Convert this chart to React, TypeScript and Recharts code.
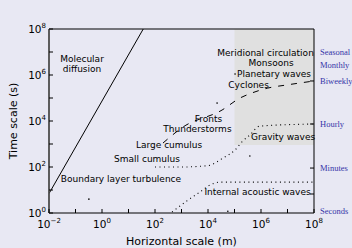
import React from 'react';
import {
  ComposedChart, Line, Scatter, XAxis, YAxis, ReferenceArea, ReferenceDot,
} from 'recharts';

// horizontal scale (m) and time scale (s), log axes
const xDecades = [1e-2, 1e-1, 1, 10, 100, 1e3, 1e4, 1e5, 1e6, 1e7, 1e8];
const yDecades = [1, 10, 100, 1e3, 1e4, 1e5, 1e6, 1e7, 1e8];

// molecular diffusion (solid)
const diffusionL = [0.01, 36];
const diffusionT = [7, 1e8];

// weather systems (dashed): cumulus -> fronts -> cyclones -> planetary waves
const weatherL = [200, 1150, 34000, 162000, 457000, 1.8e6, 9.5e6, 1e8];
const weatherT = [1100, 5500, 30000, 100000, 166000, 270000, 370000, 550000];

// gravity waves (dotted)
const gravityL = [100, 1000, 10000, 37000, 105000, 190000, 380000, 900000, 1e8];
const gravityT = [100, 100, 115, 245, 550, 1230, 2450, 6000, 7400];

// internal acoustic waves (dotted)
const acousticL = [440, 1800, 5000, 12000, 28000, 1e8];
const acousticT = [1.1, 3.7, 8.2, 16.6, 22, 22];

// stray marks
const strayL = [0.32, 380000, 56000, 22000, 105000];
const strayT = [4, 300, 1.2, 60000, 1.1e6];

// shaded large-scale box
const shadeL = [1e5, 1e8];
const shadeT = [900, 1e8];

const labelNames = [
  'Molecular', 'diffusion', 'Meridional circulation', 'Monsoons', 'Planetary waves',
  'Cyclones', 'Fronts', 'Thunderstorms', 'Large cumulus', 'Small cumulus',
  'Boundary layer turbulence', 'Gravity waves', 'Internal acoustic waves',
];
const labelL = [0.176, 0.176, 1.48e6, 2.4e6, 3.1e6, 3.4e5, 1.05e4, 4.0e3, 340, 50, 5.2, 6.8e6, 7.4e5];
const labelT = [5.0e6, 1.8e6, 9.1e6, 3.3e6, 1.1e6, 3.7e5, 1.2e4, 4.5e3, 910, 223, 30, 2000, 8.2];

// top (length) annotations
const topNames = ['mm scale', 'few hundred m', 'tens of km', 'few thousand km', "Earth's radius"];
const topL = [0.1, 160, 12000, 3.5e5, 4.4e6];
const topRow = [2, 1, 2, 1, 2];

// right (time) annotations
const rightNames = ['Seasonal', 'Monthly', 'Biweekly', 'Hourly', 'Minutes', 'Seconds'];
const rightT = [1e7, 2.7e6, 5.5e5, 7400, 90, 1.2];
const rightMarks = [5.5e5, 7400, 90, 6.7];

const zip = (xs: number[], ys: number[]) => xs.map((L, i) => ({ L, T: ys[i] }));

const FONT = 'DejaVu Sans';
const BLUE = '#3535a8';

const expOf = (v: number) => Math.round(Math.log10(v));

const Pow = ({ x, y, v, anchor }: any) => {
  const e = expOf(v);
  return (
    <text x={x} y={y} textAnchor={anchor} fontFamily={FONT} fontSize={10.5} fill="#000">
      <tspan>10</tspan>
      <tspan dy={-5} fontSize={7}>{e < 0 ? `\u2212${-e}` : `${e}`}</tspan>
    </text>
  );
};

const BottomTick = ({ x, y, payload }: any) => {
  const e = expOf(payload.value);
  return (
    <g>
      <line x1={x} y1={y} x2={x} y2={y - 4} stroke="#000" />
      {e % 2 === 0 && <Pow x={x} y={y + 15} v={payload.value} anchor="middle" />}
    </g>
  );
};

const LeftTick = ({ x, y, payload }: any) => {
  const e = expOf(payload.value);
  return (
    <g>
      <line x1={x} y1={y} x2={x + 4} y2={y} stroke="#000" />
      {e % 2 === 0 && <Pow x={x - 3} y={y + 4} v={payload.value} anchor="end" />}
    </g>
  );
};

const TopTick = ({ x, y, payload }: any) => {
  const v = payload.value;
  const i = topL.indexOf(v);
  return (
    <g>
      {xDecades.includes(v) && <line x1={x} y1={y} x2={x} y2={y + 4} stroke="#000" />}
      {i >= 0 && (
        <text x={x} y={topRow[i] === 1 ? y - 15 : y - 5} textAnchor="middle"
          fontFamily="Liberation Serif" fontSize={8.5} fill={BLUE}>{topNames[i]}</text>
      )}
    </g>
  );
};

const RightTick = ({ x, y, payload }: any) => {
  const v = payload.value;
  const i = rightT.indexOf(v);
  return (
    <g>
      {rightMarks.includes(v) && <line x1={x} y1={y} x2={x - 4} y2={y} stroke="#000" />}
      {i >= 0 && (
        <text x={x + 6} y={y + 3} textAnchor="start"
          fontFamily="Liberation Serif" fontSize={8.5} fill={BLUE}>{rightNames[i]}</text>
      )}
    </g>
  );
};

const topTicks = Array.from(new Set([...xDecades, ...topL])).sort((a, b) => a - b);
const rightTicks = Array.from(new Set([...rightT, ...rightMarks])).sort((a, b) => a - b);

export default function App() {
  return (
    <div style={{ position: 'absolute', left: 0, top: 0, width: 352, height: 248, background: '#e8e8f3', fontFamily: FONT }}>
      <ComposedChart width={352} height={248} margin={{ top: 0, right: 0, bottom: 0, left: 0 }}>
        <XAxis dataKey="L" type="number" scale="log" domain={[0.01, 1e8]} allowDataOverflow
          ticks={xDecades} tick={<BottomTick />} tickSize={0} tickMargin={0} tickLine={false}
          axisLine={false} height={35} interval={0}
          label={{ value: 'Horizontal scale (m)', position: 'insideBottom', offset: 3, fontSize: 11, fill: '#000', fontFamily: FONT }} />
        <XAxis xAxisId="top" orientation="top" type="number" scale="log" domain={[0.01, 1e8]} allowDataOverflow
          ticks={topTicks} tick={<TopTick />} tickSize={0} tickMargin={0} tickLine={false}
          axisLine={false} height={29} interval={0} />
        <YAxis dataKey="T" type="number" scale="log" domain={[1, 1e8]} allowDataOverflow
          ticks={yDecades} tick={<LeftTick />} tickSize={0} tickMargin={0} tickLine={false}
          axisLine={{ stroke: '#555', strokeWidth: 1.5 }} width={49} interval={0}
          label={{ value: 'Time scale (s)', angle: -90, position: 'insideLeft', offset: 13, fontSize: 11, fill: '#000', fontFamily: FONT, style: { textAnchor: 'middle' } }} />
        <YAxis yAxisId="right" orientation="right" type="number" scale="log" domain={[1, 1e8]} allowDataOverflow
          ticks={rightTicks} tick={<RightTick />} tickSize={0} tickMargin={0} tickLine={false}
          axisLine={false} width={38} interval={0} />

        <ReferenceArea x1={shadeL[0]} x2={shadeL[1]} y1={shadeT[0]} y2={shadeT[1]} fill="#e0e0e0" fillOpacity={1} stroke="none" />
        <ReferenceArea x1={0.01} x2={1e8} y1={1} y2={1e8} fill="none" stroke="#000" strokeWidth={1} />

        <Line data={zip(diffusionL, diffusionT)} dataKey="T" stroke="#000" strokeWidth={1} dot={false} isAnimationActive={false} />
        <Line data={zip(weatherL, weatherT)} dataKey="T" type="monotone" stroke="#000" strokeWidth={1} strokeDasharray="6 7" dot={false} isAnimationActive={false} />
        <Line data={zip(gravityL, gravityT)} dataKey="T" type="monotone" stroke="#000" strokeWidth={1.1} strokeDasharray="1 3.5" dot={false} isAnimationActive={false} />
        <Line data={zip(acousticL, acousticT)} dataKey="T" type="monotone" stroke="#000" strokeWidth={1.1} strokeDasharray="1 3.5" dot={false} isAnimationActive={false} />
        <Scatter data={zip(strayL, strayT)} fill="#000" isAnimationActive={false}
          shape={(p: any) => <circle cx={p.cx} cy={p.cy} r={0.8} fill="#000" />} />

        {labelNames.map((name, i) => (
          <ReferenceDot key={name} x={labelL[i]} y={labelT[i]} r={0} fill="none" stroke="none"
            label={{ value: name, position: 'center', fontSize: 9, fill: '#000', fontFamily: FONT }} />
        ))}
      </ComposedChart>
    </div>
  );
}
